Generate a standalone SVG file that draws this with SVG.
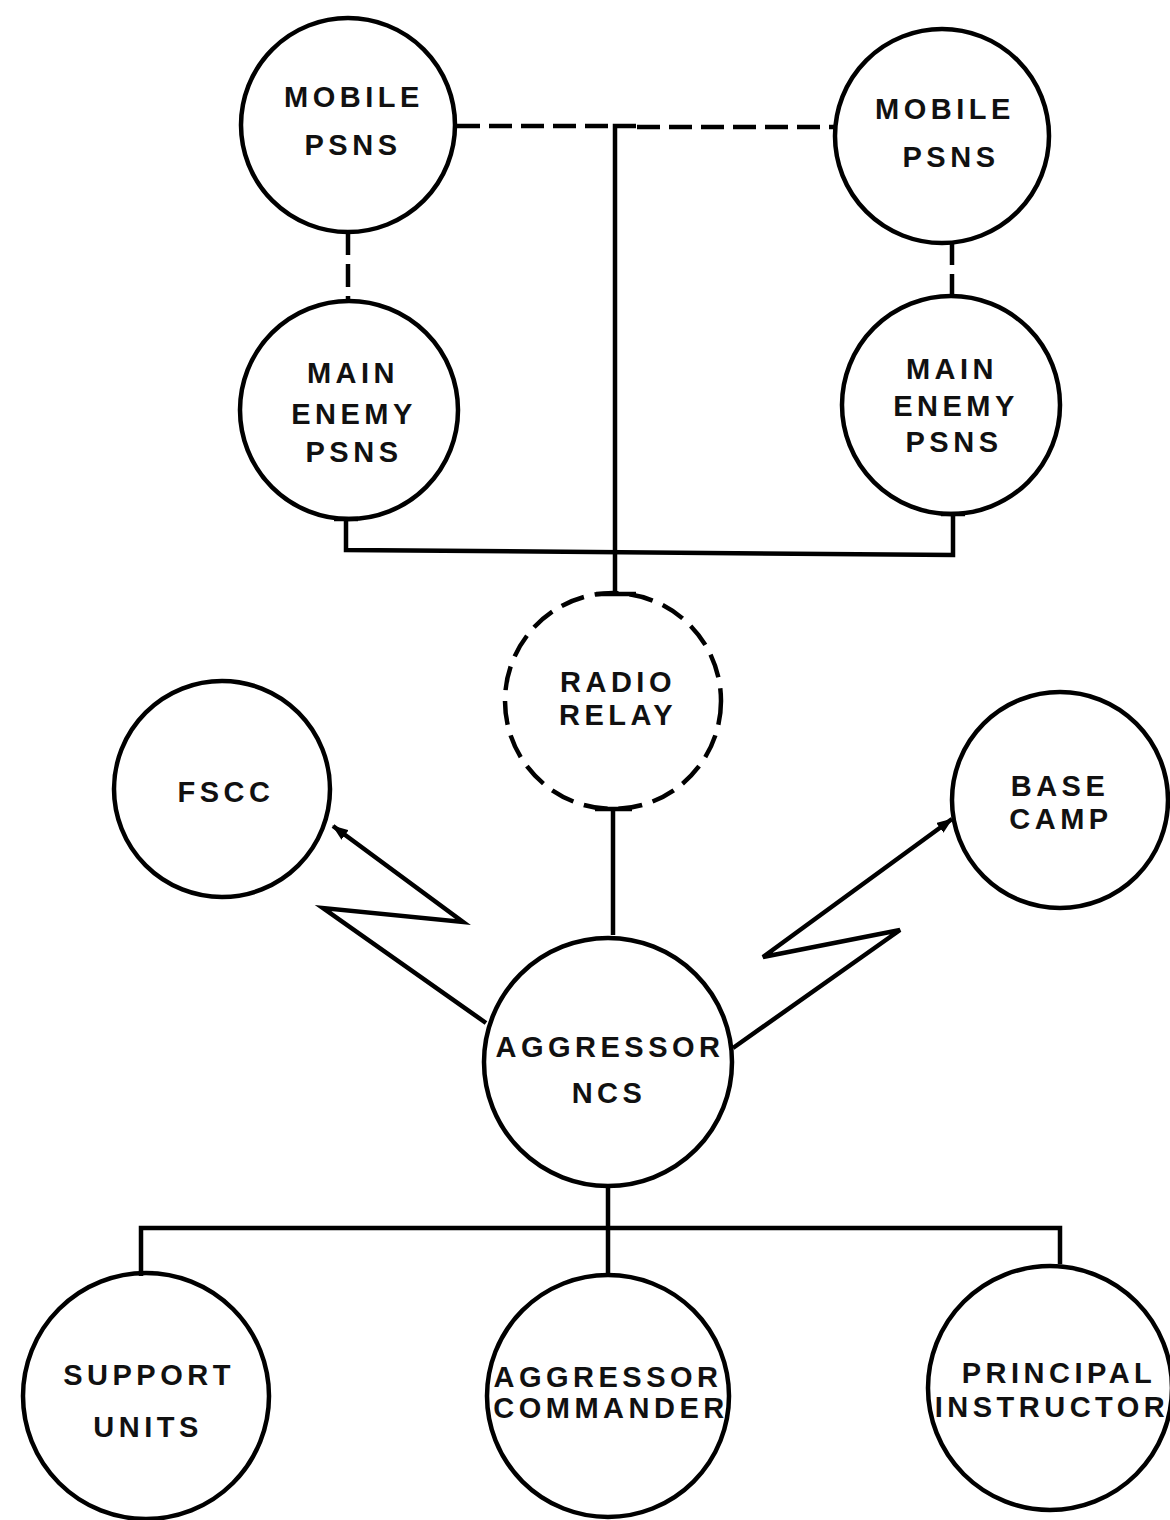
<svg xmlns="http://www.w3.org/2000/svg" width="1170" height="1520" viewBox="0 0 1170 1520">
  <style>
    .node { fill: none; stroke: #000; stroke-width: 4.5; }
    .relay { stroke-dasharray: 24 11; }
    .lbl { font-family: "Liberation Sans", Arial, sans-serif; font-weight: bold; font-size: 29px; letter-spacing: 4.5px; text-anchor: middle; fill: #111; }
    .wire { fill: none; stroke: #000; stroke-width: 4.5; stroke-linejoin: miter; }
    .dash { stroke-dasharray: 23 9; }
  </style>
  <defs>
    <marker id="arrow" viewBox="0 0 16 12" refX="15" refY="6" markerWidth="16" markerHeight="12" markerUnits="userSpaceOnUse" orient="auto">
      <path d="M0,0 L16,6 L0,12 z" fill="#000"/>
    </marker>
  </defs>
  <rect width="1170" height="1520" fill="#fff"/>

  <!-- connectors -->
  <g id="connectors">
    <!-- dashed link between the two mobile stations -->
    <path class="wire dash" d="M457,126 L614,126"/>
    <path class="wire dash" d="M637,127 L834,127"/>
    <!-- solid trunk from the top link down to the radio relay -->
    <path class="wire" d="M636,126 L615,126 L615,594"/>
    <path class="wire" d="M596,594 L636,594"/>
    <!-- dashed links mobile to main enemy -->
    <path class="wire dash" d="M348,232 L348,300"/>
    <path class="wire dash" d="M952,242 L952,295"/>
    <!-- solid loop under the main enemy stations -->
    <path class="wire" d="M346,518 L346,550 L953,555 L953,514"/>
    <path class="wire" d="M334,519 L358,519"/>
    <path class="wire" d="M941,514 L965,514"/>
    <!-- radio relay to NCS -->
    <path class="wire" d="M613,809 L613,935"/>
    <path class="wire" d="M595,809 L632,809"/>
    <!-- radio links (lightning) -->
    <path class="wire" d="M486,1023 L323,908 L463,922 L333,826" marker-end="url(#arrow)"/>
    <path class="wire" d="M733,1048 L900,930 L763,957 L952,819" marker-end="url(#arrow)"/>
    <!-- distribution tree below NCS -->
    <path class="wire" d="M608,1187 L608,1276"/>
    <path class="wire" d="M141,1276 L141,1228 L1060,1228 L1060,1264"/>
  </g>

  <g id="mobile-psns-left">
    <circle class="node" cx="348" cy="125" r="107"/>
    <text class="lbl" x="354" y="107">MOBILE</text>
    <text class="lbl" x="353" y="155">PSNS</text>
  </g>
  <g id="mobile-psns-right">
    <circle class="node" cx="942" cy="136" r="107"/>
    <text class="lbl" x="945" y="119">MOBILE</text>
    <text class="lbl" x="951" y="167">PSNS</text>
  </g>
  <g id="main-enemy-left">
    <circle class="node" cx="349" cy="410" r="109"/>
    <text class="lbl" x="353" y="383">MAIN</text>
    <text class="lbl" x="354" y="424">ENEMY</text>
    <text class="lbl" x="354" y="462">PSNS</text>
  </g>
  <g id="main-enemy-right">
    <circle class="node" cx="951" cy="405" r="109"/>
    <text class="lbl" x="952" y="379">MAIN</text>
    <text class="lbl" x="956" y="416">ENEMY</text>
    <text class="lbl" x="954" y="452">PSNS</text>
  </g>
  <g id="radio-relay">
    <circle class="node relay" cx="613" cy="701" r="108"/>
    <text class="lbl" x="618" y="692">RADIO</text>
    <text class="lbl" x="618" y="725">RELAY</text>
  </g>
  <g id="fscc">
    <circle class="node" cx="222" cy="789" r="108"/>
    <text class="lbl" x="226" y="802">FSCC</text>
  </g>
  <g id="base-camp">
    <circle class="node" cx="1060" cy="800" r="108"/>
    <text class="lbl" x="1060" y="796">BASE</text>
    <text class="lbl" x="1061" y="829">CAMP</text>
  </g>
  <g id="aggressor-ncs">
    <circle class="node" cx="608" cy="1062" r="124"/>
    <text class="lbl" x="610" y="1057">AGGRESSOR</text>
    <text class="lbl" x="609" y="1103">NCS</text>
  </g>
  <g id="support-units">
    <circle class="node" cx="146" cy="1396" r="123"/>
    <text class="lbl" x="149" y="1385">SUPPORT</text>
    <text class="lbl" x="148" y="1437">UNITS</text>
  </g>
  <g id="aggressor-commander">
    <circle class="node" cx="608" cy="1396" r="121"/>
    <text class="lbl" x="608" y="1387">AGGRESSOR</text>
    <text class="lbl" x="611" y="1418">COMMANDER</text>
  </g>
  <g id="principal-instructor">
    <circle class="node" cx="1050" cy="1388" r="122"/>
    <text class="lbl" x="1059" y="1383">PRINCIPAL</text>
    <text class="lbl" x="1052" y="1417">INSTRUCTOR</text>
  </g>
</svg>
